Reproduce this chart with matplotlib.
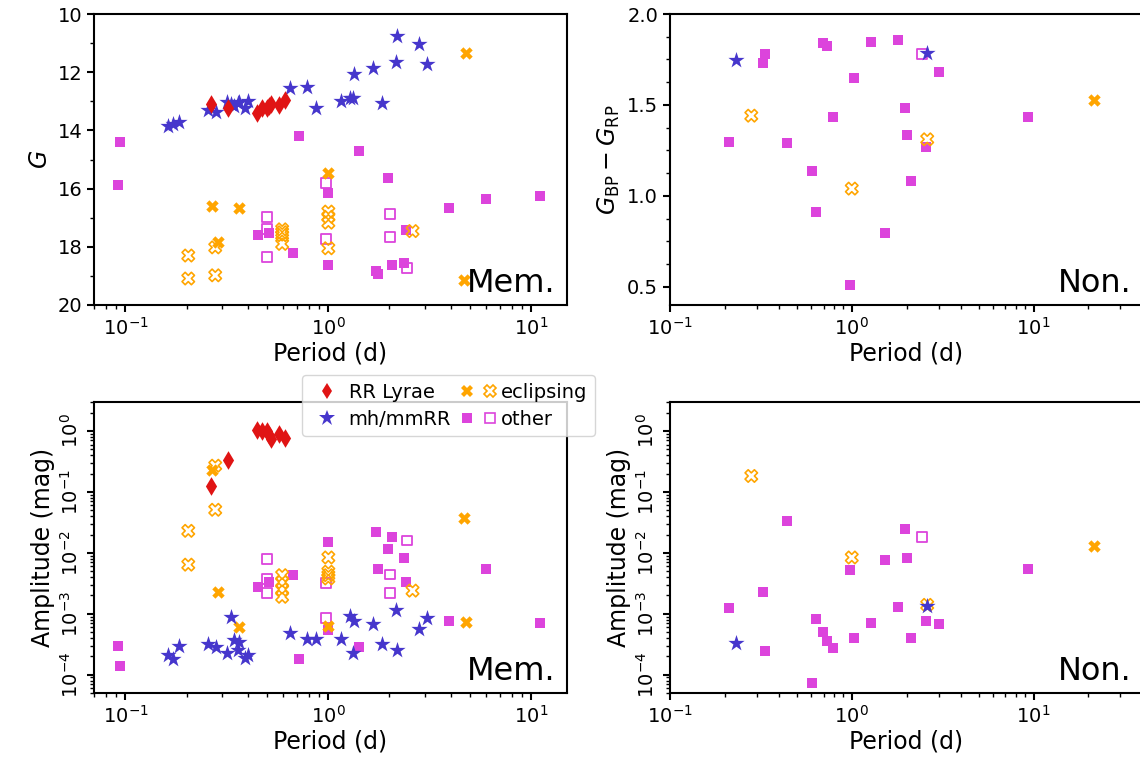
import matplotlib
matplotlib.use("Agg")
import matplotlib.pyplot as plt
from matplotlib.lines import Line2D
from matplotlib.legend_handler import HandlerTuple
from matplotlib.ticker import MultipleLocator

# ── Members: period (d), G mag, amplitude (mag) ─────────────────────
rr_per = [0.264, 0.32, 0.445, 0.471, 0.499, 0.508, 0.522, 0.569, 0.61]
rr_g   = [13.1, 13.22, 13.41, 13.24, 13.22, 13.15, 13.09, 13.13, 12.97]
rr_amp = [0.125, 0.335, 1.04, 1.0, 1.0, 0.86, 0.75, 0.91, 0.78]

mh_per = [0.163, 0.172, 0.183, 0.256, 0.278, 0.318, 0.331, 0.343, 0.357, 0.361,
          0.389, 0.404, 0.645, 0.787, 0.872, 1.16, 1.28, 1.32, 1.34, 1.66,
          1.84, 2.16, 2.19, 2.79, 3.07]
mh_g   = [13.85, 13.79, 13.72, 13.30, 13.38, 13.01, 13.10, 13.16, 13.05, 13.01,
          13.24, 12.98, 12.55, 12.52, 13.24, 12.99, 12.90, 12.88, 12.06, 11.85,
          13.05, 11.64, 10.75, 11.04, 11.72]
mh_amp = [2.1e-4, 1.8e-4, 3.0e-4, 3.2e-4, 2.85e-4, 2.27e-4, 8.8e-4, 3.75e-4, 2.57e-4, 3.5e-4,
          1.9e-4, 2.13e-4, 4.8e-4, 3.85e-4, 3.85e-4, 3.85e-4, 9.3e-4, 2.3e-4, 7.5e-4, 6.9e-4,
          3.2e-4, 1.16e-3, 2.57e-4, 5.6e-4, 8.5e-4]

ecl_per = [0.268, 0.287, 0.361, 1.0, 4.66, 4.78]
ecl_g   = [16.6, 17.82, 16.67, 15.48, 19.14, 11.35]
ecl_amp = [0.23, 2.3e-3, 6.0e-4, 6.4e-4, 0.037, 7.3e-4]

ecl_c_per = [0.204, 0.204, 0.277, 0.277, 0.592, 0.592, 0.592, 0.592,
             1.0, 1.0, 1.0, 1.0, 2.6]
ecl_c_g   = [18.3, 19.09, 18.02, 18.98, 17.4, 17.5, 17.6, 17.9,
             16.79, 16.97, 17.17, 18.05, 17.46]
ecl_c_amp = [0.023, 6.4e-3, 0.27, 0.051, 4.3e-3, 3.3e-3, 2.5e-3, 1.9e-3,
             8.4e-3, 4.9e-3, 4.3e-3, 3.8e-3, 2.4e-3]

oth_per = [0.092, 0.094, 0.448, 0.508, 0.668, 0.72, 1.0, 1.0, 1.42, 1.71,
           1.75, 1.97, 2.06, 2.37, 2.41, 3.95, 5.96, 11.0]
oth_g   = [15.89, 14.41, 17.6, 17.54, 18.22, 14.2, 16.16, 18.64, 14.72, 18.83,
           18.93, 15.65, 18.64, 18.57, 17.42, 16.68, 16.37, 16.26]
oth_amp = [3.0e-4, 1.4e-4, 2.74e-3, 3.3e-3, 4.3e-3, 1.8e-4, 0.015, 5.5e-4, 2.9e-4, 0.022,
           5.4e-3, 0.0115, 0.018, 8.2e-3, 3.3e-3, 7.5e-4, 5.4e-3, 7.1e-4]

oth_c_per = [0.499, 0.499, 0.499, 0.97, 0.97, 2.01, 2.01, 2.44]
oth_c_g   = [16.99, 17.4, 18.34, 15.82, 17.74, 16.88, 17.65, 18.72]
oth_c_amp = [7.9e-3, 3.7e-3, 2.2e-3, 3.2e-3, 8.5e-4, 4.4e-3, 2.2e-3, 0.016]

# ── Non-members: period (d), BP-RP colour, amplitude (mag) ──────────
n_mh_per = [0.23, 2.58]
n_mh_col = [1.747, 1.787]
n_mh_amp = [3.3e-4, 1.32e-3]

n_ecl_per = [21.6]
n_ecl_col = [1.527]
n_ecl_amp = [0.013]

n_ecl_c_per = [0.28, 1.0, 2.6]
n_ecl_c_col = [1.441, 1.04, 1.311]
n_ecl_c_amp = [0.183, 8.4e-3, 1.4e-3]

n_oth_per = [0.212, 0.326, 0.334, 0.44, 0.605, 0.637, 0.695, 0.735, 0.79, 0.98,
             1.03, 1.28, 1.52, 1.8, 1.96, 2.01, 2.12, 2.56, 3.02, 9.3]
n_oth_col = [1.295, 1.729, 1.779, 1.29, 1.136, 0.910, 1.839, 1.824, 1.432, 0.509,
             1.647, 1.845, 0.795, 1.855, 1.482, 1.333, 1.081, 1.268, 1.68, 1.432]
n_oth_amp = [1.24e-3, 2.27e-3, 2.45e-4, 0.033, 7.3e-5, 8.2e-4, 5.0e-4, 3.6e-4, 2.75e-4, 5.2e-3,
             4.0e-4, 7.1e-4, 7.6e-3, 1.29e-3, 0.0245, 8.2e-3, 4.0e-4, 7.7e-4, 6.8e-4, 5.4e-3]

n_oth_c_per = [2.44]
n_oth_c_col = [1.78]
n_oth_c_amp = [0.0185]

# ── Styles ──────────────────────────────────────────────────────────
RED, BLUE, ORANGE, MAG = "#e01414", "#4636cc", "#ffa500", "#dc44dc"
S_RR, S_MH, S_X, S_SQ = 90, 150, 80, 50

plt.rcParams.update({
    "font.size": 14,
    "axes.linewidth": 1.5,
    "xtick.major.width": 1.5, "ytick.major.width": 1.5,
    "xtick.minor.width": 1.0, "ytick.minor.width": 1.0,
    "xtick.major.size": 5, "ytick.major.size": 5,
    "xtick.minor.size": 3, "ytick.minor.size": 3,
})

W, H = 1140, 767
fig = plt.figure(figsize=(W / 100, H / 100), dpi=100)


def pos(x0, ytop):
    return [x0 / W, 1 - (ytop + 291) / H, 473 / W, 291 / H]


ax_tl = fig.add_axes(pos(94, 14))
ax_tr = fig.add_axes(pos(670, 14))
ax_bl = fig.add_axes(pos(94, 402))
ax_br = fig.add_axes(pos(670, 402))


def draw(ax, groups):
    for per, val, kw in groups:
        if len(per):
            ax.scatter(per, val, **kw)


k_oth_c = dict(marker="s", s=S_SQ, facecolors="none", edgecolors=MAG, linewidths=1.3)
k_oth = dict(marker="s", s=S_SQ, color=MAG, linewidths=0)
k_ecl_c = dict(marker="X", s=S_X, facecolors="none", edgecolors=ORANGE, linewidths=1.2)
k_ecl = dict(marker="X", s=S_X, color=ORANGE, linewidths=0)
k_mh = dict(marker="*", s=S_MH, color=BLUE, linewidths=0)
k_rr = dict(marker="d", s=S_RR, color=RED, linewidths=0)

draw(ax_tl, [(oth_c_per, oth_c_g, k_oth_c), (oth_per, oth_g, k_oth),
             (ecl_c_per, ecl_c_g, k_ecl_c), (ecl_per, ecl_g, k_ecl),
             (mh_per, mh_g, k_mh), (rr_per, rr_g, k_rr)])
draw(ax_bl, [(oth_c_per, oth_c_amp, k_oth_c), (oth_per, oth_amp, k_oth),
             (ecl_c_per, ecl_c_amp, k_ecl_c), (ecl_per, ecl_amp, k_ecl),
             (mh_per, mh_amp, k_mh), (rr_per, rr_amp, k_rr)])
draw(ax_tr, [(n_oth_c_per, n_oth_c_col, k_oth_c), (n_oth_per, n_oth_col, k_oth),
             (n_ecl_c_per, n_ecl_c_col, k_ecl_c), (n_ecl_per, n_ecl_col, k_ecl),
             (n_mh_per, n_mh_col, k_mh)])
draw(ax_br, [(n_oth_c_per, n_oth_c_amp, k_oth_c), (n_oth_per, n_oth_amp, k_oth),
             (n_ecl_c_per, n_ecl_c_amp, k_ecl_c), (n_ecl_per, n_ecl_amp, k_ecl),
             (n_mh_per, n_mh_amp, k_mh)])

for ax in (ax_tl, ax_tr, ax_bl, ax_br):
    ax.set_xscale("log")
    ax.set_xlabel("Period (d)", fontsize=17, labelpad=2)
for ax in (ax_tl, ax_bl):
    ax.set_xlim(0.07, 15)
    ax.text(0.975, 0.02, "Mem.", transform=ax.transAxes, ha="right", va="bottom", fontsize=23)
for ax in (ax_tr, ax_br):
    ax.set_xlim(0.1, 40)
    ax.text(0.975, 0.02, "Non.", transform=ax.transAxes, ha="right", va="bottom", fontsize=23)

ax_tl.set_ylim(20, 10)
ax_tl.yaxis.set_major_locator(MultipleLocator(2))
ax_tl.yaxis.set_minor_locator(MultipleLocator(1))
ax_tl.set_ylabel("$G$", fontsize=17)

ax_tr.set_ylim(0.4, 2.0)
ax_tr.yaxis.set_major_locator(MultipleLocator(0.5))
ax_tr.yaxis.set_minor_locator(MultipleLocator(0.125))
ax_tr.set_ylabel(r"$G_{\rm BP} - G_{\rm RP}$", fontsize=17)

for ax in (ax_bl, ax_br):
    ax.set_yscale("log")
    ax.set_ylim(5e-5, 3)
    ax.set_ylabel("Amplitude (mag)", fontsize=17)
    ax.tick_params(axis="y", which="major", labelrotation=90)
    for lab in ax.get_yticklabels():
        lab.set_verticalalignment("center")

# ── Legend ──────────────────────────────────────────────────────────
h_rr = Line2D([], [], ls="none", marker="d", ms=8, color=RED, mew=0)
h_mh = Line2D([], [], ls="none", marker="*", ms=12, color=BLUE, mew=0)
h_ecl = Line2D([], [], ls="none", marker="X", ms=9, color=ORANGE, mew=0)
h_ecl_c = Line2D([], [], ls="none", marker="X", ms=9, mfc="none", mec=ORANGE, mew=1.2)
h_oth = Line2D([], [], ls="none", marker="s", ms=7, color=MAG, mew=0)
h_oth_c = Line2D([], [], ls="none", marker="s", ms=7, mfc="none", mec=MAG, mew=1.2)

fig.legend([h_rr, h_mh, (h_ecl, h_ecl_c), (h_oth, h_oth_c)],
           ["RR Lyrae", "mh/mmRR", "eclipsing", "other"],
           handler_map={tuple: HandlerTuple(ndivide=None, pad=0.6)},
           ncol=2, loc="upper left", bbox_to_anchor=(302 / W, 1 - 375 / H),
           borderaxespad=0, fontsize=14, handlelength=1.75, columnspacing=0.55,
           handletextpad=0.25, labelspacing=0.4)

fig.savefig("out.png", dpi=100)
